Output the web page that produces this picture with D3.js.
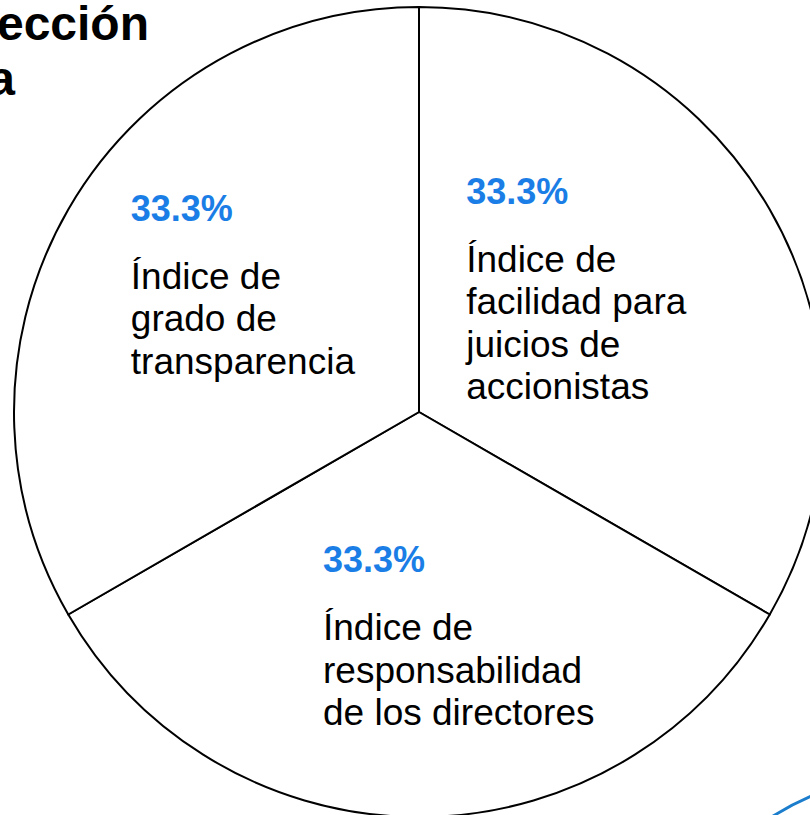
<!DOCTYPE html>
<html lang="es">
<head>
  <meta charset="UTF-8">
  <title>Índice de protección</title>
  <script src="https://d3js.org/d3.v7.min.js"></script>
  <style>
    body {
      margin: 0;
      background: #ffffff;
      overflow: hidden;
    }
    svg {
      display: block;
      font-family: 'Liberation Sans', Arial, sans-serif;
    }
  </style>
</head>
<body>
<svg width="810" height="815"></svg>

<script>
// datos
const categorias = [
  ["Índice de", "facilidad para", "juicios de", "accionistas"],
  ["Índice de", "responsabilidad", "de los directores"],
  ["Índice de", "grado de", "transparencia"]
];
const valores = [33.3, 33.3, 33.3];
// el titulo del original se ve cortado por el borde izquierdo
const titulo = ["ección", "a"];

const width = 810, height = 815;
const cx = 419, cy = 412, radius = 405;

const svg = d3.select("svg");

svg.append("g")
  .selectAll("text")
  .data(titulo)
  .join("text")
  .attr("x", (d, i) => i === 0 ? 149 : 15)
  .attr("y", (d, i) => 40 + i * 55)
  .attr("text-anchor", "end")
  .attr("font-size", 48)
  .attr("font-weight", "bold")
  .attr("fill", "#000")
  .text(d => d);

const pie = d3.pie()
  .sort(null)
  .startAngle(0)
  .endAngle(2 * Math.PI);

const arc = d3.arc()
  .innerRadius(0)
  .outerRadius(radius);

const labelArc = d3.arc()
  .innerRadius(215)
  .outerRadius(215);

const arcs = pie(valores);

const g = svg.append("g")
  .attr("transform", `translate(${cx},${cy})`);

g.selectAll("path")
  .data(arcs)
  .join("path")
  .attr("d", arc)
  .attr("fill", "#fff")
  .attr("stroke", "#000")
  .attr("stroke-width", 2)
  .attr("stroke-linejoin", "round");

// ajuste de las etiquetas respecto al centroide
const ajuste = [[-139, -101], [-96, -55], [-102, -84]];

const label = g.selectAll("g.label")
  .data(arcs)
  .join("g")
  .attr("class", "label")
  .attr("transform", (d, i) => {
    const c = labelArc.centroid(d);
    return `translate(${c[0] + ajuste[i][0]},${c[1] + ajuste[i][1]})`;
  });

label.append("text")
  .attr("font-size", 36)
  .attr("font-weight", "bold")
  .attr("fill", "#1a7ee6")
  .text(d => d.data.toFixed(1) + "%");

label.append("text")
  .attr("font-size", 37)
  .attr("fill", "#000")
  .selectAll("tspan")
  .data((d, i) => categorias[i])
  .join("tspan")
  .attr("x", 0)
  .attr("y", (d, j) => 68 + j * 42.5)
  .text(d => d);

// arco decorativo azul abajo a la derecha
const p = d3.path();
p.moveTo(770, 818);
p.quadraticCurveTo(792, 804, 814, 795);
svg.append("path")
  .attr("d", p.toString())
  .attr("fill", "none")
  .attr("stroke", "#1b7dcc")
  .attr("stroke-width", 3);
</script>
</body>
</html>
